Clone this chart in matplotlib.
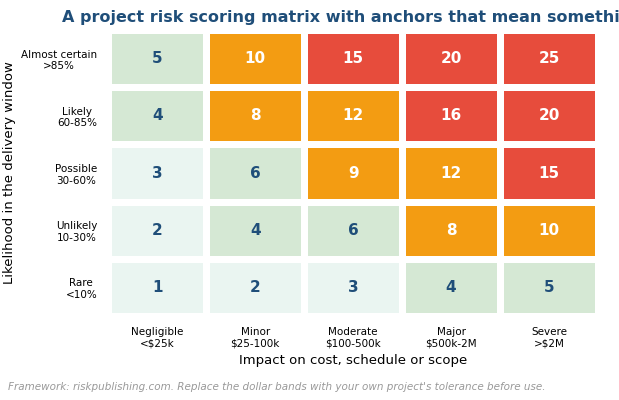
import matplotlib
matplotlib.use("Agg")
import matplotlib.pyplot as plt
import numpy as np
from matplotlib.colors import ListedColormap, BoundaryNorm

impact = ["Negligible\n<$25k", "Minor\n$25-100k", "Moderate\n$100-500k", "Major\n$500k-2M", "Severe\n>$2M"]
likelihood = ["Rare\n<10%", "Unlikely\n10-30%", "Possible\n30-60%", "Likely\n60-85%", "Almost certain\n>85%"]
scores = np.array([[1, 2, 3, 4, 5],
                   [2, 4, 6, 8, 10],
                   [3, 6, 9, 12, 15],
                   [4, 8, 12, 16, 20],
                   [5, 10, 15, 20, 25]])

cmap = ListedColormap(["#eaf5f1", "#d5e8d4", "#f39c12", "#e74c3c"])
norm = BoundaryNorm([0, 3.5, 7, 14, 26], 4)

fig = plt.figure(figsize=(6.19, 4.0), dpi=100)
ax = fig.add_axes([0.175, 0.21, 0.791, 0.715])
ax.pcolormesh(np.arange(6), np.arange(6), scores, cmap=cmap, norm=norm,
              edgecolors="white", linewidth=5)
for i in range(5):
    for j in range(5):
        v = scores[i, j]
        c = "white" if v >= 7 else "#1f4e79"
        ax.text(j + 0.5, i + 0.5, str(v), ha="center", va="center",
                fontsize=11, fontweight="bold", color=c)
ax.set_xlim(0, 5); ax.set_ylim(0, 5)
ax.set_xticks(np.arange(5) + 0.5)
ax.set_xticklabels(impact, fontsize=7.5)
ax.set_yticks(np.arange(5) + 0.5)
ax.set_yticklabels(likelihood, fontsize=7.5, multialignment="center")
ax.tick_params(length=0, pad=8)
for s in ax.spines.values():
    s.set_visible(False)
ax.set_xlabel("Impact on cost, schedule or scope", fontsize=9.5)
ax.set_ylabel("Likelihood in the delivery window", fontsize=9.5)
fig.text(0.57, 0.945, "A project risk scoring matrix with anchors that mean something",
         ha="center", fontsize=11.5, fontweight="bold", color="#1f4e79")
fig.text(0.013, 0.025, "Framework: riskpublishing.com. Replace the dollar bands with your own project's tolerance before use.",
         fontsize=7.5, style="italic", color="#999999")
fig.savefig("out.png", dpi=100)
